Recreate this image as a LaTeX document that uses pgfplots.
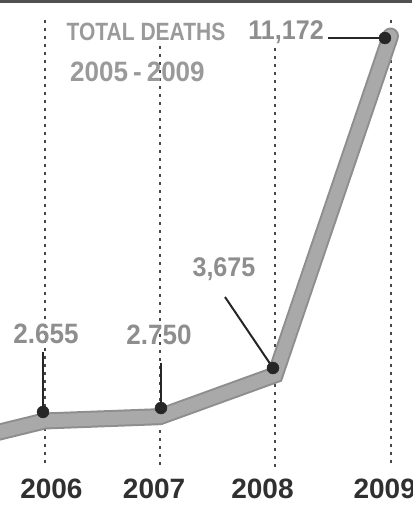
\documentclass[border=0pt]{standalone}
\usepackage{fontspec}
\setmainfont{Liberation Sans}
\newfontfamily\titlefont[FakeStretch=0.84]{Liberation Sans}
\newfontfamily\numfont[FakeStretch=0.93]{Liberation Sans}
\usepackage{pgfplots}
\pgfplotsset{compat=1.18}
\definecolor{ribbon}{HTML}{A9A9A9}
\definecolor{ribbonedge}{HTML}{8E8E8E}
\definecolor{labgray}{HTML}{8E8E8E}
\definecolor{titlegray}{HTML}{9A9A9A}
\definecolor{dark}{HTML}{262626}
\definecolor{tickgray}{HTML}{303030}
\definecolor{dotline}{HTML}{484848}
\begin{document}
\begin{tikzpicture}
\begin{axis}[
  scale only axis, width=412pt, height=505pt,
  xmin=2005.614, xmax=2009.1865, ymin=796, ymax=11969,
  axis line style={draw=none}, tick style={draw=none},
  ytick=\empty,
  xtick={2006.06,2006.95,2007.89,2008.95},
  xticklabels={2006,2007,2008,2009},
  xticklabel style={anchor=base, inner sep=0pt, yshift=6pt, text=tickgray,
    font=\fontsize{28}{28}\selectfont\bfseries},
  clip=true,
]
% dotted guides
\addplot[dotline, line width=2pt, dash pattern=on 3pt off 5pt] coordinates {(2006,11527) (2006,1637)};
\addplot[dotline, line width=2pt, dash pattern=on 3pt off 5pt] coordinates {(2007,10951) (2007,1637)};
\addplot[dotline, line width=2pt, dash pattern=on 3pt off 5pt] coordinates {(2008,10907) (2008,1637)};
\addplot[dotline, line width=2pt, dash pattern=on 3pt off 5pt] coordinates {(2009,11527) (2009,1637)};
% ribbon
\addplot[ribbonedge, line width=17pt, line join=miter, line cap=round] coordinates {(2005,2030) (2006,2655) (2007,2750) (2008,3675) (2009,11172)};
\addplot[ribbon, line width=13pt, line join=miter, line cap=round] coordinates {(2005,2030) (2006,2655) (2007,2750) (2008,3675) (2009,11172)};
% leaders
\addplot[dark, line width=2pt] coordinates {(2005.987,4181) (2005.987,2854)};
\addplot[dark, line width=2pt] coordinates {(2007.010,3938) (2007.010,2942)};
\addplot[dark, line width=2pt] coordinates {(2007.565,5398) (2007.981,3827)};
\addplot[dark, line width=2pt] coordinates {(2008.458,11128) (2008.952,11128)};
% dots
\addplot[only marks, mark=*, mark size=6pt, dark] coordinates {(2005.987,2854) (2007.010,2942) (2007.981,3827) (2008.952,11128)};
% labels
\node[text=titlegray, font=\titlefont\bfseries\fontsize{25}{25}\selectfont] at (axis cs:2006.880,11261) {TOTAL DEATHS};
\node[text=titlegray, font=\numfont\bfseries\fontsize{28}{28}\selectfont] at (axis cs:2006.806,10376) {2005\hspace{5pt}-\hspace{5pt}2009};
\node[text=labgray, font=\numfont\bfseries\fontsize{27}{27}\selectfont] at (axis cs:2008.094,11261) {11,172};
\node[text=labgray, font=\numfont\bfseries\fontsize{27}{27}\selectfont] at (axis cs:2007.556,6018) {3,675};
\node[text=labgray, font=\numfont\bfseries\fontsize{28}{28}\selectfont] at (axis cs:2006.013,4580) {2.655};
\node[text=labgray, font=\numfont\bfseries\fontsize{28}{28}\selectfont] at (axis cs:2006.993,4558) {2.750};
\draw[line width=3pt, color=dark!80] ([yshift=-1.5pt]rel axis cs:0,1) -- ([yshift=-1.5pt]rel axis cs:1,1);
\end{axis}
\pgfresetboundingbox
\useasboundingbox (current axis.south west) rectangle (current axis.north east);
\end{tikzpicture}
\end{document}
